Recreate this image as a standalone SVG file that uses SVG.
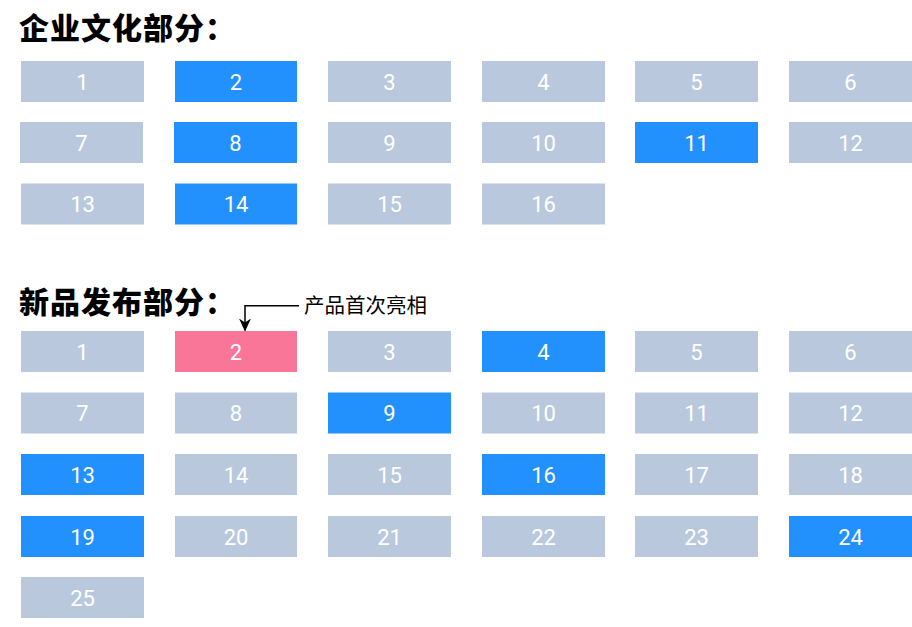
<svg xmlns="http://www.w3.org/2000/svg" width="912" height="627" viewBox="0 0 912 627">
<defs>
<style>
.g{fill:#BAC8DE}
.b{fill:#2290FD}
.p{fill:#FA7699}
.n{font-family:Roboto,"Liberation Sans",sans-serif;font-size:22px;fill:#FFFFFF;text-anchor:middle}
.t{font-family:"Noto Sans CJK SC","Liberation Sans",sans-serif;font-size:30px;font-weight:900;letter-spacing:1px;fill:#000}
.a{font-family:"Noto Sans CJK SC","Liberation Sans",sans-serif;font-size:20.5px;fill:#000}
.c{fill:none;stroke:#000;stroke-width:1.5}
</style>
<marker id="arr" viewBox="0 0 13 12" refX="12" refY="6" markerWidth="13" markerHeight="12" markerUnits="userSpaceOnUse" orient="auto">
<path d="M0,0 L13,6 L0,12 L4,6 Z" fill="#000"/>
</marker>
</defs>
<rect width="912" height="627" fill="#FFFFFF"/>
<text id="title1" class="t" x="19" y="39">企业文化部分：</text>
<g id="s1-1"><rect class="g" x="21" y="61" width="123" height="41"/><text class="n" x="82.5" y="89.5">1</text></g>
<g id="s1-2"><rect class="b" x="175" y="61" width="122" height="41"/><text class="n" x="236" y="89.5">2</text></g>
<g id="s1-3"><rect class="g" x="328" y="61" width="123" height="41"/><text class="n" x="389.5" y="89.5">3</text></g>
<g id="s1-4"><rect class="g" x="482" y="61" width="123" height="41"/><text class="n" x="543.5" y="89.5">4</text></g>
<g id="s1-5"><rect class="g" x="635" y="61" width="123" height="41"/><text class="n" x="696.5" y="89.5">5</text></g>
<g id="s1-6"><rect class="g" x="789" y="61" width="123" height="41"/><text class="n" x="850.5" y="89.5">6</text></g>
<g id="s1-7"><rect class="g" x="20" y="122" width="123" height="41"/><text class="n" x="81.5" y="150.5">7</text></g>
<g id="s1-8"><rect class="b" x="174" y="122" width="123" height="41"/><text class="n" x="235.5" y="150.5">8</text></g>
<g id="s1-9"><rect class="g" x="328" y="122" width="123" height="41"/><text class="n" x="389.5" y="150.5">9</text></g>
<g id="s1-10"><rect class="g" x="482" y="122" width="123" height="41"/><text class="n" x="543.5" y="150.5">10</text></g>
<g id="s1-11"><rect class="b" x="635" y="122" width="123" height="41"/><text class="n" x="696.5" y="150.5">11</text></g>
<g id="s1-12"><rect class="g" x="789" y="122" width="123" height="41"/><text class="n" x="850.5" y="150.5">12</text></g>
<g id="s1-13"><rect class="g" x="21" y="183.5" width="123" height="41"/><text class="n" x="82.5" y="212">13</text></g>
<g id="s1-14"><rect class="b" x="175" y="183.5" width="122" height="41"/><text class="n" x="236" y="212">14</text></g>
<g id="s1-15"><rect class="g" x="328" y="183.5" width="123" height="41"/><text class="n" x="389.5" y="212">15</text></g>
<g id="s1-16"><rect class="g" x="482" y="183.5" width="123" height="41"/><text class="n" x="543.5" y="212">16</text></g>
<text id="title2" class="t" x="19" y="313">新品发布部分：</text>
<g id="s2-1"><rect class="g" x="21" y="331" width="123" height="41"/><text class="n" x="82.5" y="359.5">1</text></g>
<g id="s2-2"><rect class="p" x="175" y="331" width="122" height="41"/><text class="n" x="236" y="359.5">2</text></g>
<g id="s2-3"><rect class="g" x="328" y="331" width="123" height="41"/><text class="n" x="389.5" y="359.5">3</text></g>
<g id="s2-4"><rect class="b" x="482" y="331" width="123" height="41"/><text class="n" x="543.5" y="359.5">4</text></g>
<g id="s2-5"><rect class="g" x="635" y="331" width="123" height="41"/><text class="n" x="696.5" y="359.5">5</text></g>
<g id="s2-6"><rect class="g" x="789" y="331" width="123" height="41"/><text class="n" x="850.5" y="359.5">6</text></g>
<g id="s2-7"><rect class="g" x="21" y="392.5" width="123" height="41"/><text class="n" x="82.5" y="421">7</text></g>
<g id="s2-8"><rect class="g" x="175" y="392.5" width="122" height="41"/><text class="n" x="236" y="421">8</text></g>
<g id="s2-9"><rect class="b" x="328" y="392.5" width="123" height="41"/><text class="n" x="389.5" y="421">9</text></g>
<g id="s2-10"><rect class="g" x="482" y="392.5" width="123" height="41"/><text class="n" x="543.5" y="421">10</text></g>
<g id="s2-11"><rect class="g" x="635" y="392.5" width="123" height="41"/><text class="n" x="696.5" y="421">11</text></g>
<g id="s2-12"><rect class="g" x="789" y="392.5" width="123" height="41"/><text class="n" x="850.5" y="421">12</text></g>
<g id="s2-13"><rect class="b" x="21" y="454" width="123" height="41"/><text class="n" x="82.5" y="482.5">13</text></g>
<g id="s2-14"><rect class="g" x="175" y="454" width="122" height="41"/><text class="n" x="236" y="482.5">14</text></g>
<g id="s2-15"><rect class="g" x="328" y="454" width="123" height="41"/><text class="n" x="389.5" y="482.5">15</text></g>
<g id="s2-16"><rect class="b" x="482" y="454" width="123" height="41"/><text class="n" x="543.5" y="482.5">16</text></g>
<g id="s2-17"><rect class="g" x="635" y="454" width="123" height="41"/><text class="n" x="696.5" y="482.5">17</text></g>
<g id="s2-18"><rect class="g" x="789" y="454" width="123" height="41"/><text class="n" x="850.5" y="482.5">18</text></g>
<g id="s2-19"><rect class="b" x="21" y="516" width="123" height="41"/><text class="n" x="82.5" y="544.5">19</text></g>
<g id="s2-20"><rect class="g" x="175" y="516" width="122" height="41"/><text class="n" x="236" y="544.5">20</text></g>
<g id="s2-21"><rect class="g" x="328" y="516" width="123" height="41"/><text class="n" x="389.5" y="544.5">21</text></g>
<g id="s2-22"><rect class="g" x="482" y="516" width="123" height="41"/><text class="n" x="543.5" y="544.5">22</text></g>
<g id="s2-23"><rect class="g" x="635" y="516" width="123" height="41"/><text class="n" x="696.5" y="544.5">23</text></g>
<g id="s2-24"><rect class="b" x="789" y="516" width="123" height="41"/><text class="n" x="850.5" y="544.5">24</text></g>
<g id="s2-25"><rect class="g" x="21" y="577" width="123" height="41"/><text class="n" x="82.5" y="605.5">25</text></g>
<g id="connectors">
<path class="c" d="M299,305.7 H245 V330.5" marker-end="url(#arr)"/>
</g>
<text id="note" class="a" x="304" y="313">产品首次亮相</text>
</svg>
